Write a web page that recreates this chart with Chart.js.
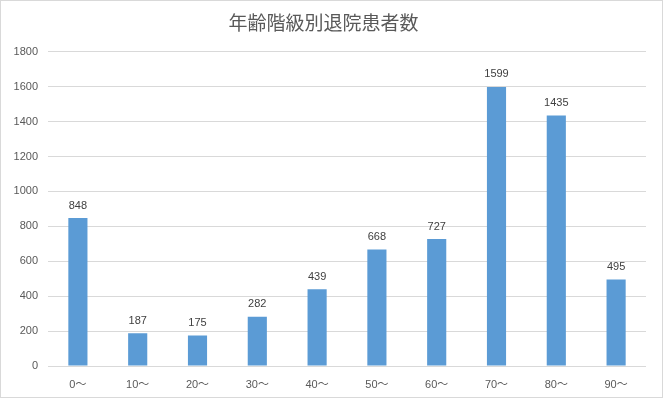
<!DOCTYPE html>
<html>
<head>
<meta charset="utf-8">
<script src="https://cdn.jsdelivr.net/npm/chart.js@4"></script>
<style>
    body { margin: 0; background: #fff; }
    #wrap { width: 663px; height: 398px; box-sizing: border-box; border: 1px solid #d9d9d9; background: #fff; }
</style>
</head>
<body>
<div id="wrap"><canvas id="ageChart" width="661" height="396"></canvas></div>
<script>
// Discharged patients by age group

const ageGroups = ['0〜', '10〜', '20〜', '30〜', '40〜', '50〜', '60〜', '70〜', '80〜', '90〜'];
const patientCounts = [848, 187, 175, 282, 439, 668, 727, 1599, 1435, 495];
const chartTitle = '年齢階級別退院患者数';

const FONT = "'Liberation Sans', 'Noto Sans CJK JP', sans-serif";

// Draw value labels above each bar
const labelPlugin = {
    id: 'barLabels',
    afterDatasetsDraw(chart) {
        const { ctx, data } = chart;
        ctx.save();
        ctx.fillStyle = '#404040';
        ctx.font = '11px ' + FONT;
        ctx.textAlign = 'center';
        ctx.textBaseline = 'bottom';
        data.datasets.forEach((dataset, datasetIndex) => {
            const meta = chart.getDatasetMeta(datasetIndex);
            meta.data.forEach((bar, index) => {
                ctx.fillText(dataset.data[index], bar.x, bar.y - 7);
            });
        });
        ctx.restore();
    }
};

new Chart(document.getElementById('ageChart'), {
    type: 'bar',
    data: {
        labels: ageGroups,
        datasets: [{
            data: patientCounts,
            backgroundColor: '#5b9bd5',
            categoryPercentage: 1,
            barPercentage: 0.32
        }]
    },
    options: {
        responsive: false,
        animation: false,
        layout: { padding: { left: 0, right: 16, top: 0, bottom: 0 } },
        plugins: {
            legend: { display: false },
            tooltip: { enabled: false },
            title: {
                display: true,
                text: chartTitle,
                color: '#595959',
                font: { family: FONT, size: 19, weight: 'normal' },
                padding: { top: 12, bottom: 16 }
            }
        },
        scales: {
            x: {
                grid: { display: false },
                border: { display: false },
                ticks: { color: '#595959', font: { family: FONT, size: 11 }, padding: 4 },
                afterFit(scale) { scale.height = 31; }
            },
            y: {
                min: 0,
                max: 1800,
                ticks: {
                    stepSize: 200,
                    color: '#595959',
                    font: { family: FONT, size: 11 },
                    padding: 10,
                    callback: value => String(value)
                },
                grid: { color: '#d9d9d9', drawTicks: false },
                border: { display: false },
                afterFit(scale) { scale.width = 47; }
            }
        }
    },
    plugins: [labelPlugin]
});
</script>
</body>
</html>
